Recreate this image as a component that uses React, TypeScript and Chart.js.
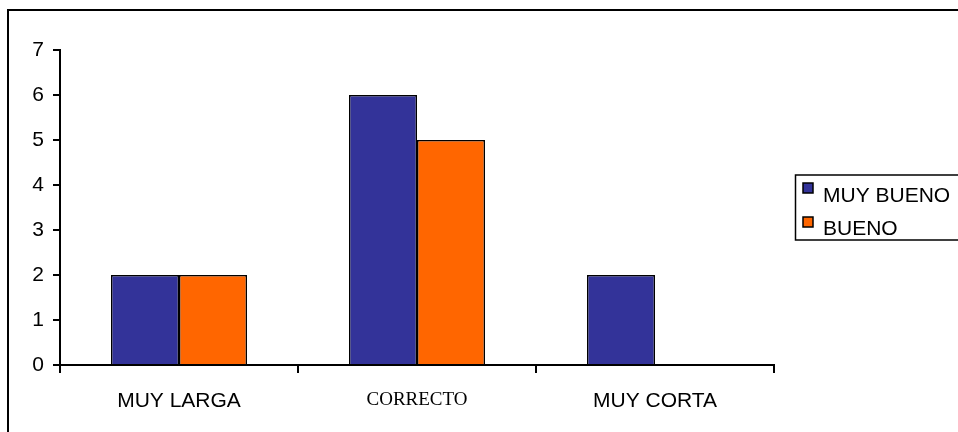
import React, { useEffect, useRef } from "react";
import { Chart, registerables } from "chart.js";

Chart.register(...registerables);

const categories = ["MUY LARGA", "CORRECTO", "MUY CORTA"];
const muyBueno = [2, 6, 2];
const bueno = [2, 5, 0];
const seriesLabels = ["MUY BUENO", "BUENO"];
const seriesColors = ["#333399", "#FF6600"];
const yTicks = [0, 1, 2, 3, 4, 5, 6, 7];

const SANS = "'Liberation Sans', Arial, sans-serif";
const SERIF = "'Liberation Serif', 'Times New Roman', serif";

const framePlugin = {
  id: "frameAndLegend",
  afterDraw(chart: any) {
    const ctx = chart.ctx;
    ctx.save();
    // outer frame
    ctx.strokeStyle = "#000";
    ctx.lineWidth = 2;
    ctx.strokeRect(8, 10, 1000, 500);
    // legend box
    ctx.lineWidth = 1.5;
    ctx.strokeRect(795.5, 175, 200, 65);
    ctx.font = "21px " + SANS;
    ctx.textBaseline = "alphabetic";
    ctx.textAlign = "left";
    chart.data.datasets.forEach((ds: any, i: number) => {
      const sy = 183 + i * 34;
      ctx.fillStyle = ds.backgroundColor;
      ctx.fillRect(803, sy, 10, 10);
      ctx.lineWidth = 1.5;
      ctx.strokeStyle = "#000";
      ctx.strokeRect(803, sy, 10, 10);
      ctx.fillStyle = "#000";
      ctx.fillText(ds.label, 823, 202 + i * 33);
    });
    ctx.restore();
  },
};

export default function App() {
  const ref = useRef<HTMLCanvasElement>(null);
  useEffect(() => {
    if (!ref.current) return;
    const chart = new Chart(ref.current, {
      type: "bar",
      data: {
        labels: categories,
        datasets: [
          {
            label: seriesLabels[0],
            data: muyBueno,
            backgroundColor: seriesColors[0],
            borderColor: "#000",
            borderWidth: 1.5,
            categoryPercentage: 0.5714,
            barPercentage: 1,
          },
          {
            label: seriesLabels[1],
            data: bueno,
            backgroundColor: seriesColors[1],
            borderColor: "#000",
            borderWidth: 1.5,
            categoryPercentage: 0.5714,
            barPercentage: 1,
          },
        ],
      },
      options: {
        responsive: false,
        animation: false,
        layout: { padding: { left: 10, top: 50, right: 184, bottom: 10 } },
        plugins: { legend: { display: false }, tooltip: { enabled: false } },
        scales: {
          x: {
            afterFit: (s: any) => {
              s.height = 57;
            },
            grid: {
              offset: true,
              drawOnChartArea: false,
              drawTicks: true,
              tickLength: 8,
              color: "#000",
              lineWidth: 2,
            },
            border: { display: true, color: "#000", width: 2 },
            ticks: {
              color: "#000",
              padding: 16,
              maxRotation: 0,
              font: (c: any) =>
                c.index === 1
                  ? { family: SERIF, size: 19 }
                  : { family: SANS, size: 21 },
            },
          },
          y: {
            min: 0,
            max: 7,
            afterFit: (s: any) => {
              s.width = 50;
            },
            afterBuildTicks: (s: any) => {
              s.ticks = yTicks.map((v) => ({ value: v }));
            },
            grid: {
              drawOnChartArea: false,
              drawTicks: true,
              tickLength: 7,
              color: "#000",
              lineWidth: 2,
            },
            border: { display: true, color: "#000", width: 2 },
            ticks: {
              color: "#000",
              padding: 9,
              font: { family: SANS, size: 21 },
            },
          },
        },
      },
      plugins: [framePlugin],
    } as any);
    return () => chart.destroy();
  }, []);
  return (
    <div style={{ position: "absolute", left: 0, top: 0, width: 958, height: 432, background: "#fff" }}>
      <canvas ref={ref} width={958} height={432} />
    </div>
  );
}
